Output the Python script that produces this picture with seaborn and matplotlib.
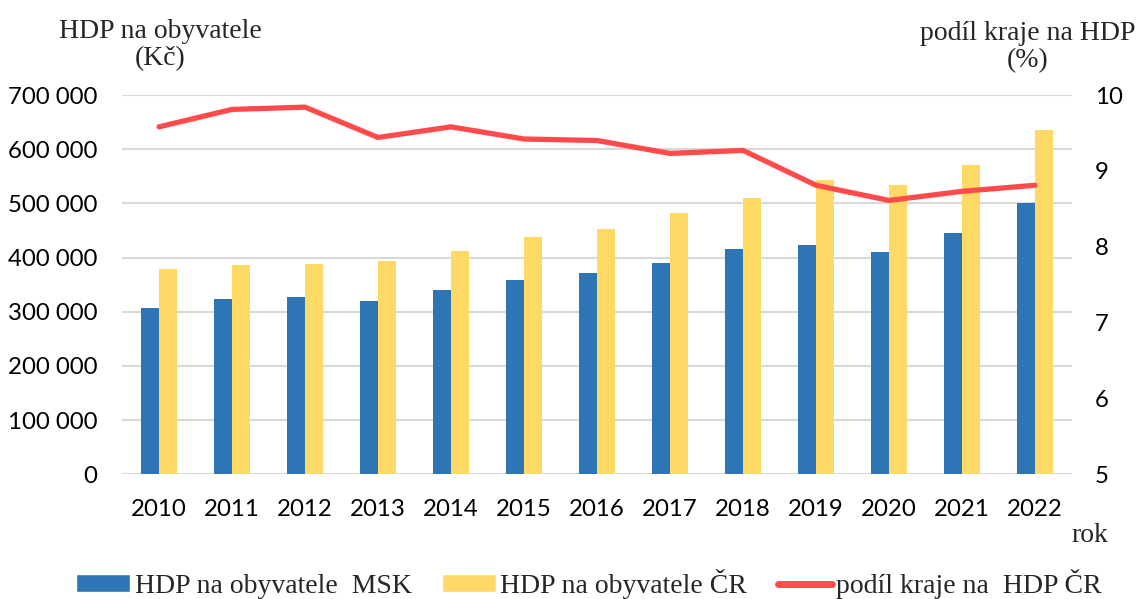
import numpy as np
import pandas as pd
import matplotlib
matplotlib.use("Agg")
import matplotlib.pyplot as plt
import seaborn as sns
from matplotlib.ticker import FuncFormatter, MultipleLocator

years = ["2010", "2011", "2012", "2013", "2014", "2015", "2016",
         "2017", "2018", "2019", "2020", "2021", "2022"]
hdp_msk = [307000, 323000, 327000, 319000, 341000, 358000, 371000,
           390000, 415000, 424000, 410000, 445000, 500000]
hdp_cr = [379000, 387000, 389000, 394000, 413000, 438000, 453000,
          482000, 509000, 543000, 533000, 571000, 635000]
podil = [9.58, 9.81, 9.84, 9.44, 9.58, 9.42, 9.40,
         9.23, 9.27, 8.81, 8.61, 8.73, 8.81]

lab_msk = "HDP na obyvatele  MSK"
lab_cr = "HDP na obyvatele ČR"
lab_podil = "podíl kraje na  HDP ČR"

df = pd.DataFrame({
    "rok": years * 2,
    "hodnota": hdp_msk + hdp_cr,
    "serie": [lab_msk] * len(years) + [lab_cr] * len(years),
})
df_line = pd.DataFrame({"pos": np.arange(len(years)), "podil": podil})

sns.set_theme(style="white")
plt.rcParams["font.family"] = ["Lato", "DejaVu Sans"]

fig = plt.figure(figsize=(11.48, 5.99), dpi=100)
ax = fig.add_axes([0.1067, 0.2082, 0.8267, 0.6332])

blue = "#2E75B6"
yellow = "#FFD966"
red = "#FF4B4B"
grid_c = "#D9D9D9"

sns.barplot(data=df, x="rok", y="hodnota", hue="serie", order=years,
            hue_order=[lab_msk, lab_cr], palette=[blue, yellow],
            width=0.5, gap=0, saturation=1, linewidth=0, ax=ax, legend=False)

ax.set_ylim(0, 700000)
ax.set_xlim(-0.5, len(years) - 0.5)
ax.yaxis.set_major_locator(MultipleLocator(100000))
ax.yaxis.set_major_formatter(FuncFormatter(lambda v, p: f"{int(v):,}".replace(",", " ")))
ax.grid(axis="y", color=grid_c, linewidth=1.5)
ax.set_axisbelow(True)
for s in ax.spines.values():
    s.set_visible(False)
ax.tick_params(axis="both", length=0, labelsize=17.3, colors="black")
ax.tick_params(axis="y", pad=18)
ax.tick_params(axis="x", pad=18)
ax.set_xlabel("")
ax.set_ylabel("")

ax2 = ax.twinx()
sns.lineplot(data=df_line, x="pos", y="podil", color=red, linewidth=3.8,
             ax=ax2, legend=False)
ax2.set_ylim(5, 10)
ax2.yaxis.set_major_locator(MultipleLocator(1))
for s in ax2.spines.values():
    s.set_visible(False)
ax2.tick_params(axis="y", length=0, labelsize=17.3, colors="black", pad=17)
ax2.set_ylabel("")
ax2.set_xlabel("")
ax2.grid(False)
ax.set_xlim(-0.5, len(years) - 0.5)

serif = ["Liberation Serif", "DejaVu Serif"]
fig.text(160 / 1148, 1 - 45 / 599, "HDP na obyvatele\n(Kč)", ha="center", va="center",
         fontsize=20, family=serif, linespacing=1.1)
fig.text(1028 / 1148, 1 - 47 / 599, "podíl kraje na HDP\n(%)", ha="center", va="center",
         fontsize=20, family=serif, linespacing=1.1)
fig.text(1090 / 1148, 1 - 535 / 599, "rok", ha="center", va="center",
         fontsize=20, family=serif)

from matplotlib.patches import Patch
from matplotlib.lines import Line2D
handles = [Patch(facecolor=blue, label=lab_msk),
           Patch(facecolor=yellow, label=lab_cr),
           Line2D([0], [0], color=red, linewidth=5, label=lab_podil)]
fig.legend(handles=handles, loc="center", bbox_to_anchor=(0.513, 1 - 584 / 599),
           ncol=3, frameon=False, prop={"family": serif, "size": 20},
           handlelength=1.95, handletextpad=0.15, columnspacing=1.1,
           handleheight=0.6)

fig.savefig("out.png", dpi=100, facecolor="white")
